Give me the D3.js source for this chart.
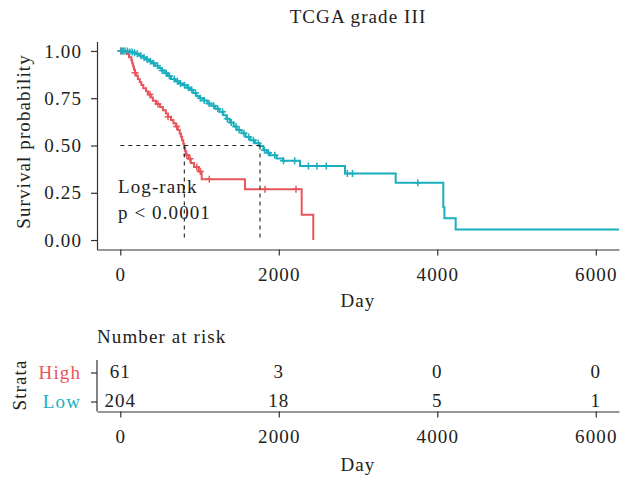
<!DOCTYPE html>
<html>
<head>
<meta charset="utf-8">
<script src="https://cdn.jsdelivr.net/npm/d3@7"></script>
<style>
  body { margin: 0; background: #fff; }
  svg text { font-family: "Liberation Serif", "Times New Roman", serif; font-size: 19px; letter-spacing: 1.1px; fill: #222; }
</style>
</head>
<body>
<svg id="chart" width="626" height="481"></svg>
<script>
// Kaplan–Meier estimates for the two risk groups (step points: day, survival)
const highTime = [0, 85, 110, 140, 150, 162, 172, 185, 200, 222, 245, 265, 290, 325, 350, 385, 412, 450, 500, 538, 575, 601, 640, 670, 700, 725, 750, 765, 780, 795, 806, 818, 830, 860, 890, 930, 990, 1027, 1573, 2289, 2435];
const highSurv = [1, 0.984, 0.967, 0.951, 0.934, 0.918, 0.902, 0.885, 0.869, 0.852, 0.836, 0.82, 0.803, 0.787, 0.77, 0.754, 0.737, 0.72, 0.703, 0.686, 0.669, 0.652, 0.635, 0.618, 0.6, 0.582, 0.564, 0.546, 0.528, 0.509, 0.49, 0.47, 0.45, 0.43, 0.408, 0.386, 0.363, 0.321, 0.268, 0.134, 0];
const highCensor = [5, 40, 186, 375, 475, 602, 712, 838, 880, 964, 1010, 1123, 1826, 2217];

const lowTime = [0, 100, 160, 200, 240, 280, 320, 360, 400, 440, 480, 520, 560, 600, 640, 690, 740, 790, 840, 880, 920, 960, 1000, 1050, 1100, 1150, 1200, 1250, 1300, 1340, 1380, 1430, 1470, 1530, 1580, 1640, 1700, 1760, 1805, 1850, 1890, 1973, 2053, 2268, 2835, 3475, 4076, 4090, 4232, 6293];
const lowSurv = [1, 0.995, 0.99, 0.985, 0.975, 0.965, 0.955, 0.945, 0.935, 0.922, 0.91, 0.897, 0.882, 0.868, 0.852, 0.84, 0.828, 0.818, 0.805, 0.795, 0.778, 0.762, 0.75, 0.738, 0.722, 0.71, 0.695, 0.678, 0.66, 0.642, 0.622, 0.6, 0.582, 0.565, 0.545, 0.528, 0.512, 0.497, 0.475, 0.462, 0.449, 0.431, 0.419, 0.392, 0.352, 0.303, 0.173, 0.115, 0.056, 0.056];
const lowCensor = [10, 30, 60, 90, 120, 150, 180, 215, 260, 300, 340, 380, 420, 470, 530, 580, 620, 680, 720, 760, 810, 860, 900, 950, 1010, 1060, 1120, 1180, 1230, 1290, 1350, 1400, 1460, 1500, 1560, 1620, 1680, 1740, 1820, 1870, 1950, 2060, 2200, 2374, 2481, 2600, 2865, 2930, 3754];

const medianHigh = 808;
const medianLow = 1763;

// Number at risk table
const strata = ["High", "Low"];
const riskTimes = [0, 2000, 4000, 6000];
const riskHigh = [61, 3, 0, 0];
const riskLow = [204, 18, 5, 1];

const survTicks = [0, 0.25, 0.5, 0.75, 1];
const dayTicks = [0, 2000, 4000, 6000];

const colors = { High: "#E8555A", Low: "#1AAFBE" };

const svg = d3.select("#chart");

// shared horizontal scale
const x = d3.scaleLinear().domain([-294, 6293]).range([97, 619]);
const y = d3.scaleLinear().domain([-0.05, 1.05]).range([249.5, 41.5]);

const axisColor = "#333";

function styleAxis(g) {
  g.selectAll(".domain").attr("stroke", axisColor).attr("stroke-width", 1.2);
  g.selectAll(".tick line").attr("stroke", axisColor).attr("stroke-width", 1.2);
  g.selectAll(".tick text").attr("font-size", null).attr("font-family", null).style("fill", "#222");
  g.attr("font-size", null).attr("font-family", null);
}

// ---- survival panel ----
const panelTop = 41.5, panelBottom = 249.5;

svg.append("g")
  .attr("transform", `translate(${x.range()[0]},0)`)
  .call(d3.axisLeft(y).tickValues(survTicks).tickFormat(d3.format(".2f")).tickSize(6).tickPadding(9).tickSizeOuter(0))
  .call(styleAxis);

svg.append("g")
  .attr("transform", `translate(0,${panelBottom})`)
  .call(d3.axisBottom(x).tickValues(dayTicks).tickFormat(d3.format("d")).tickSize(6).tickPadding(12).tickSizeOuter(0))
  .call(styleAxis);

const clip = svg.append("clipPath").attr("id", "panel-clip")
  .append("rect").attr("x", 97).attr("y", panelTop - 5).attr("width", 522).attr("height", panelBottom - panelTop + 5);

const line = d3.line().x(d => x(d[0])).y(d => y(d[1])).curve(d3.curveStepAfter);

function survAt(times, surv, t) {
  const i = d3.bisectRight(times, t) - 1;
  return surv[Math.max(0, i)];
}

const curves = [
  { key: "High", times: highTime, surv: highSurv, cens: highCensor },
  { key: "Low", times: lowTime, surv: lowSurv, cens: lowCensor }
];

const plot = svg.append("g").attr("clip-path", "url(#panel-clip)");

curves.forEach(c => {
  plot.append("path")
    .datum(c.times.map((t, i) => [t, c.surv[i]]))
    .attr("fill", "none")
    .attr("stroke", c.key === "High" ? colors.High : colors.Low)
    .attr("stroke-width", 2)
    .attr("d", line);
  const h = 3.5;
  plot.append("g").selectAll("path")
    .data(c.cens)
    .join("path")
    .attr("d", t => {
      const px = x(t), py = y(survAt(c.times, c.surv, t));
      return `M${px - h},${py}H${px + h}M${px},${py - h}V${py + h}`;
    })
    .attr("stroke", colors[c.key])
    .attr("stroke-width", 1.5);
});

// log-rank annotation
svg.append("text").attr("x", 118).attr("y", 193).text("Log-rank");
svg.append("text").attr("x", 118).attr("y", 218.5).text("p < 0.0001");

// median survival guides
const guides = svg.append("g")
  .attr("stroke", "#222").attr("stroke-width", 1.1).attr("stroke-dasharray", "4,4").attr("fill", "none");
guides.append("line").attr("x1", x(0)).attr("x2", x(medianLow)).attr("y1", y(0.5)).attr("y2", y(0.5));
[medianHigh, medianLow].forEach(m => {
  guides.append("line").attr("x1", x(m)).attr("x2", x(m)).attr("y1", y(0.5)).attr("y2", y(0));
});

// titles
svg.append("text").attr("x", 358).attr("y", 23).attr("text-anchor", "middle").text("TCGA grade III");
svg.append("text").attr("x", 358).attr("y", 307).attr("text-anchor", "middle").text("Day");
svg.append("text").attr("transform", "translate(30,141.5) rotate(-90)").attr("text-anchor", "middle").text("Survival probability");

// ---- risk table ----
const tableTop = 360, tableBottom = 411.5;
const rowY = d3.scalePoint().domain(strata).range([372.5, 401.5]);

svg.append("text").attr("x", 97).attr("y", 343).text("Number at risk");

const ty = svg.append("g")
  .attr("transform", `translate(97,0)`)
  .call(d3.axisLeft(rowY).tickSize(6).tickPadding(10).tickSizeOuter(0))
  .call(styleAxis);
ty.select(".domain").remove();
ty.selectAll(".tick text").style("fill", d => colors[d]).attr("dy", "0.3em");
svg.append("line").attr("x1", 97).attr("x2", 97).attr("y1", tableTop).attr("y2", tableBottom)
  .attr("stroke", axisColor).attr("stroke-width", 1.2);

svg.append("g")
  .attr("transform", `translate(0,${tableBottom})`)
  .call(d3.axisBottom(x).tickValues(dayTicks).tickFormat(d3.format("d")).tickSize(6).tickPadding(12).tickSizeOuter(0))
  .call(styleAxis);

const riskRows = [
  { key: "High", values: riskHigh },
  { key: "Low", values: riskLow }
];
riskRows.forEach(r => {
  svg.append("g").selectAll("text")
    .data(r.values)
    .join("text")
    .attr("x", (d, i) => x(riskTimes[i]))
    .attr("y", rowY(r.key))
    .attr("dy", "0.3em")
    .attr("text-anchor", "middle")
    .text(d => d);
});

svg.append("text").attr("x", 358).attr("y", 470.5).attr("text-anchor", "middle").text("Day");
svg.append("text").attr("transform", "translate(26,385) rotate(-90)").attr("text-anchor", "middle").text("Strata");
</script>
</body>
</html>
